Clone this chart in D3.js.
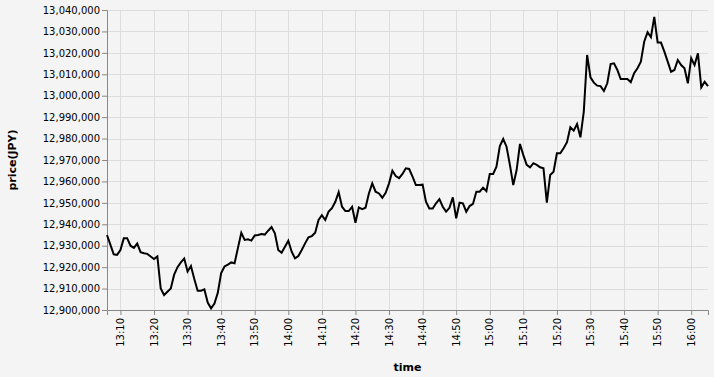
<!DOCTYPE html>
<html>
<head>
<meta charset="utf-8">
<script src="https://cdn.jsdelivr.net/npm/d3@7"></script>
<style>
  body { margin: 0; background: #f4f4f4; }
  svg { display: block; font-family: "DejaVu Sans", sans-serif; }
</style>
</head>
<body>
<svg id="chart"></svg>
<script>
// Prices per minute, one array per hour (first one starts at 13:06)
const prices13 = [
  12935000, 12930500, 12926000, 12925700, 12928000, 12933500, 12933500, 12930000, 12929000, 12931000,
  12927000, 12926500, 12926200, 12925000, 12923800, 12925000, 12910000, 12907000, 12908500, 12910000,
  12916500, 12920000, 12922200, 12924000, 12918000, 12920500, 12914500, 12909000, 12909000, 12909600,
  12903500, 12900800, 12903000, 12908000, 12917200, 12920300, 12921200, 12922200, 12921800, 12929000,
  12936000, 12932700, 12933000, 12932400, 12934800, 12935000, 12935500, 12935200, 12937000, 12938700,
  12935800, 12928000, 12926700, 12929500
];
const prices14 = [
  12932300, 12927200, 12924100, 12925200, 12928000, 12931100, 12933900, 12934500, 12936100, 12942000,
  12944200, 12942000, 12945900, 12947500, 12950500, 12955000, 12948200, 12946200, 12946200, 12948200,
  12940700, 12947900, 12947100, 12947700, 12954400, 12959100, 12955200, 12954400, 12952400, 12954700,
  12959100, 12965000, 12962500, 12961500, 12963500, 12966100, 12965800, 12962200, 12958300, 12958300,
  12958500, 12950500, 12947400, 12947400, 12949800, 12951700, 12948200, 12945900, 12947700, 12952600,
  12942800, 12950100, 12949800, 12945900, 12948500, 12949500, 12955200, 12955200, 12957100, 12955500
];
const prices15 = [
  12963500, 12963500, 12966900, 12976500, 12979800, 12976200, 12967700, 12958300, 12965300, 12977500,
  12972300, 12967700, 12966600, 12968500, 12967700, 12966600, 12966100, 12950100, 12963000, 12964500,
  12973100, 12973100, 12975500, 12978300, 12985300, 12983700, 12986800, 12980600, 12992500, 13019000,
  13008600, 13006100, 13004700, 13004500, 13002200, 13005800, 13014800, 13015100, 13012000, 13007800,
  13007800, 13007800, 13006300, 13010500, 13012800, 13015900, 13025200, 13029600, 13027300, 13036800,
  13024800, 13024800, 13020600, 13015900, 13011200, 13012000, 13016700, 13014300, 13012800, 13005800
];
const prices16 = [13017500, 13014300, 13019800, 13003900, 13006500, 13004500];

const hourStarts = [
  { hour: 13, minute: 6, values: prices13 },
  { hour: 14, minute: 0, values: prices14 },
  { hour: 15, minute: 0, values: prices15 },
  { hour: 16, minute: 0, values: prices16 }
];

const xTickLabels = ["13:10", "13:20", "13:30", "13:40", "13:50", "14:00", "14:10", "14:20", "14:30",
  "14:40", "14:50", "15:00", "15:10", "15:20", "15:30", "15:40", "15:50", "16:00"];
const yTickValues = [12900000, 12910000, 12920000, 12930000, 12940000, 12950000, 12960000, 12970000,
  12980000, 12990000, 13000000, 13010000, 13020000, 13030000, 13040000];

const parseTime = d3.timeParse("%H:%M");
const day = (h, m) => new Date(2000, 0, 1, h, m);

// build the point list
const data = [];
hourStarts.forEach(block => {
  block.values.forEach((v, i) => {
    data.push({ time: day(block.hour, block.minute + i), value: v });
  });
});

const totalW = 714, totalH = 377;
const margin = { top: 10, right: 6, bottom: 67, left: 107 },
  width = totalW - margin.left - margin.right,
  height = totalH - margin.top - margin.bottom;

const svg = d3.select("#chart").attr("width", totalW).attr("height", totalH);

svg.append("rect").attr("width", totalW).attr("height", totalH).attr("fill", "#f4f4f4");

const g = svg.append("g").attr("transform", `translate(${margin.left},${margin.top})`);

const xScale = d3.scaleTime()
  .domain([data[0].time, data[data.length - 1].time])
  .range([0, width]);
const yScale = d3.scaleLinear().domain([12900000, 13040000]).range([height, 0]);

const xTicks = xTickLabels.map(s => { const t = parseTime(s); return day(t.getHours(), t.getMinutes()); });

// grid
g.append("g")
  .selectAll("line.v")
  .data(xTicks)
  .join("line")
  .attr("x1", d => Math.round(xScale(d)) + 0.5).attr("x2", d => Math.round(xScale(d)) + 0.5)
  .attr("y1", 0).attr("y2", height)
  .attr("stroke", "#ddd");
g.append("g")
  .selectAll("line.h")
  .data(yTickValues)
  .join("line")
  .attr("x1", 0).attr("x2", width)
  .attr("y1", d => Math.round(yScale(d)) + 0.5).attr("y2", d => Math.round(yScale(d)) + 0.5)
  .attr("stroke", "#ddd");

// axes
const xAxis = g.append("g")
  .attr("transform", `translate(0,${height})`)
  .call(d3.axisBottom(xScale).tickValues(xTicks).tickFormat(d3.timeFormat("%H:%M")).tickSize(5).tickPadding(3));
xAxis.selectAll("text")
  .attr("transform", "rotate(-90)")
  .attr("text-anchor", "end")
  .attr("dy", "0.32em")
  .attr("x", -8)
  .attr("y", 0);

const yAxis = g.append("g")
  .call(d3.axisLeft(yScale).tickValues(yTickValues).tickFormat(d3.format(",")).tickSize(5).tickPadding(2));

[xAxis, yAxis].forEach(ax => {
  ax.select(".domain").attr("stroke", "#888");
  ax.selectAll(".tick line").attr("stroke", "#888");
  ax.selectAll("text").attr("font-size", 10).attr("fill", "#000").attr("font-family", "DejaVu Sans, sans-serif");
});

// line
const line = d3.line()
  .x(d => xScale(d.time))
  .y(d => yScale(d.value));

g.append("path")
  .datum(data)
  .attr("fill", "none")
  .attr("stroke", "#000")
  .attr("stroke-width", 2)
  .attr("stroke-linejoin", "miter")
  .attr("d", line);

// titles
svg.append("text")
  .attr("x", margin.left + width / 2)
  .attr("y", 371)
  .attr("text-anchor", "middle")
  .attr("font-size", 11)
  .attr("font-weight", "bold")
  .text("time");

svg.append("text")
  .attr("transform", `translate(16,${margin.top + height / 2}) rotate(-90)`)
  .attr("text-anchor", "middle")
  .attr("font-size", 11)
  .attr("font-weight", "bold")
  .text("price(JPY)");
</script>
</body>
</html>
